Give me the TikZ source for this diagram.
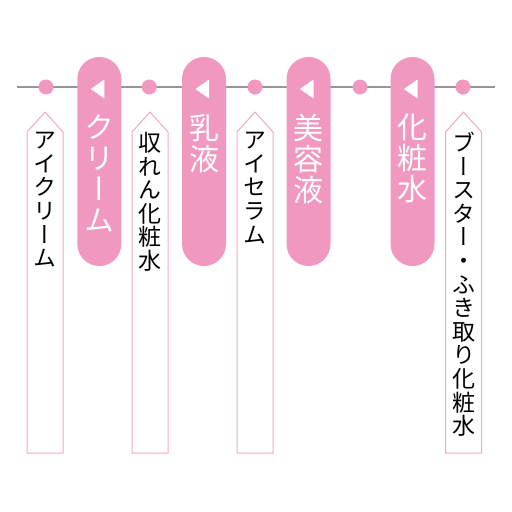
\documentclass[tikz,border=0pt]{standalone}
\usepackage{fontspec}
\newfontfamily\jpfont[RawFeature=+vert]{Noto Sans CJK JP}
\definecolor{barpink}{RGB}{240,152,192}
\definecolor{tagpink}{RGB}{240,168,202}
\definecolor{railgray}{RGB}{150,150,150}
\tikzset{
  barlabel/.style={anchor=north,text=white,align=center,inner sep=0pt,
    font=\jpfont\fontsize{30}{31}\selectfont},
  taglabel/.style={anchor=north,text=black,align=center,inner sep=0pt,
    font=\jpfont\fontsize{23}{23.6}\selectfont},
  tagshape/.style={fill=white,draw=tagpink,line width=1pt},
}
\begin{document}
\begin{tikzpicture}[x=1pt,y=-1pt]
    \useasboundingbox (0,0) rectangle (512,512);
    % rail with the dots
    \coordinate (railL) at (17,87);
    \coordinate (railR) at (495,87);
    \draw[railgray,line width=1.5pt] (railL) -- (railR);
    \foreach \xx/\na in {46/A,149.3/B,255/C,360/D,463/E}{\fill[barpink] (\xx,87) circle (7.5pt);};
    % white tags hanging under the dots
    \foreach \xx in {45,150,255,463.5}{
      \filldraw[tagshape] (\xx-18,453) -- (\xx-18,132) -- (\xx,112) -- (\xx+18,132) -- (\xx+18,453) -- cycle;};
    % pink bars with the arrows
    \foreach \xx in {99.3,204,308.5,412.5}{
      \fill[barpink,rounded corners=22pt] (\xx-22,57) rectangle (\xx+22,266);
      \fill[white] (\xx-8.5,89) -- (\xx+5,79.5) -- (\xx+5,98.5) -- cycle;};
    \node[barlabel] (barA) at (99.3,114) {ク\\リ\\ー\\ム};
    \node[barlabel] (barB) at (204,114) {乳\\液};
    \node[barlabel] (barC) at (308.5,114) {美\\容\\液};
    \node[barlabel] (barD) at (412.5,114) {化\\粧\\水};
    \node[taglabel] (tagA) at (45,132) {ア\\イ\\ク\\リ\\ー\\ム};
    \node[taglabel] (tagB) at (150,132) {収\\れ\\ん\\化\\粧\\水};
    \node[taglabel] (tagC) at (255,132) {ア\\イ\\セ\\ラ\\ム};
    \node[taglabel] (tagE) at (463.5,132) {ブ\\ー\\ス\\タ\\ー\\・\\ふ\\き\\取\\り\\化\\粧\\水};
  \end{tikzpicture}
\end{document}
